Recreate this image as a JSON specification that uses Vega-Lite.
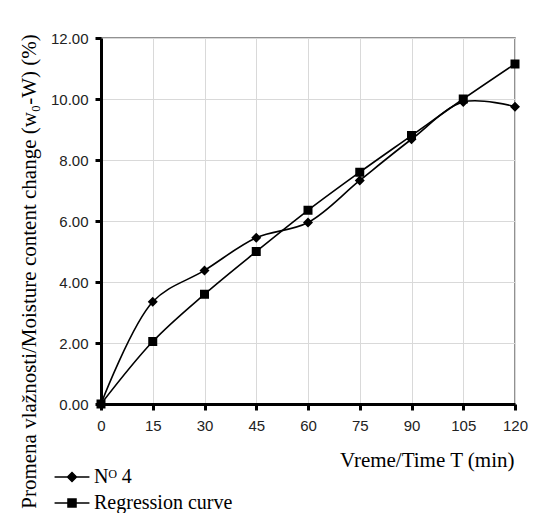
{
  "$schema": "https://vega.github.io/schema/vega-lite/v6.json",
  "width": 414,
  "height": 366,
  "autosize": {"type": "none"},
  "padding": {"left": 101, "top": 38, "right": 33, "bottom": 109},
  "background": "white",
  "config": {
    "view": {"stroke": "#6e6e6e", "strokeWidth": 1.5},
    "axis": {
      "labelFont": "Liberation Sans",
      "labelFontSize": 15,
      "labelColor": "#222222",
      "labelFlush": false,
      "domainColor": "black",
      "domainWidth": 3,
      "tickColor": "black",
      "tickWidth": 3,
      "tickSize": 6,
      "gridColor": "#d9d9d9",
      "gridWidth": 1
    }
  },
  "data": {
    "values": [
      {"t": 0, "v": 0, "series": "Nᴼ 4"},
      {"t": 15, "v": 3.35, "series": "Nᴼ 4"},
      {"t": 30, "v": 4.38, "series": "Nᴼ 4"},
      {"t": 45, "v": 5.45, "series": "Nᴼ 4"},
      {"t": 60, "v": 5.95, "series": "Nᴼ 4"},
      {"t": 75, "v": 7.33, "series": "Nᴼ 4"},
      {"t": 90, "v": 8.68, "series": "Nᴼ 4"},
      {"t": 105, "v": 9.9, "series": "Nᴼ 4"},
      {"t": 120, "v": 9.75, "series": "Nᴼ 4"},
      {"t": 0, "v": 0, "series": "Regression curve"},
      {"t": 15, "v": 2.05, "series": "Regression curve"},
      {"t": 30, "v": 3.6, "series": "Regression curve"},
      {"t": 45, "v": 5.0, "series": "Regression curve"},
      {"t": 60, "v": 6.35, "series": "Regression curve"},
      {"t": 75, "v": 7.6, "series": "Regression curve"},
      {"t": 90, "v": 8.8, "series": "Regression curve"},
      {"t": 105, "v": 10.0, "series": "Regression curve"},
      {"t": 120, "v": 11.15, "series": "Regression curve"}
    ]
  },
  "encoding": {
    "x": {
      "field": "t",
      "type": "quantitative",
      "scale": {"domain": [0, 120], "nice": false, "zero": true},
      "axis": {
        "values": [0, 15, 30, 45, 60, 75, 90, 105, 120],
        "labelAngle": 0,
        "labelPadding": 8,
        "grid": true,
        "title": "Vreme/Time T (min)",
        "titleFont": "Liberation Serif",
        "titleFontSize": 21,
        "titleFontWeight": "normal",
        "titleColor": "black",
        "titleAnchor": "end",
        "titleAlign": "right",
        "titleBaseline": "alphabetic",
        "titleX": 413,
        "titleY": 62
      }
    },
    "y": {
      "field": "v",
      "type": "quantitative",
      "scale": {"domain": [0, 12], "nice": false},
      "axis": {
        "values": [0, 2, 4, 6, 8, 10, 12],
        "format": ".2f",
        "labelPadding": 7,
        "grid": true,
        "title": "Promena vlažnosti/Moisture content change (w₀-W) (%)",
        "titleFont": "Liberation Serif",
        "titleFontSize": 21,
        "titleFontWeight": "normal",
        "titleColor": "black",
        "titleAngle": 270,
        "titleAlign": "center",
        "titleBaseline": "alphabetic",
        "titleX": -66,
        "titleY": 233
      }
    }
  },
  "layer": [
    {
      "transform": [{"filter": "false"}],
      "mark": {"type": "point", "filled": true, "size": 80, "stroke": "black", "strokeWidth": 1.5, "opacity": 1, "color": "black"},
      "encoding": {
        "shape": {
          "field": "series",
          "type": "nominal",
          "scale": {
            "domain": ["Nᴼ 4", "Regression curve"],
            "range": ["M-3.9,0H3.9M0,-1L1,0L0,1L-1,0Z", "M-3.9,0H3.9M-0.9,-0.9H0.9V0.9H-0.9Z"]
          },
          "legend": {
            "orient": "none",
            "legendX": -39,
            "legendY": 429,
            "title": null,
            "padding": 0,
            "labelFont": "Liberation Serif",
            "labelFontSize": 20,
            "labelColor": "black",
            "labelOffset": 12,
            "rowPadding": 6,
            "symbolSize": 80
          }
        }
      }
    },
    {
      "mark": {"type": "line", "interpolate": "catmull-rom", "color": "black", "strokeWidth": 1.6},
      "encoding": {"detail": {"field": "series"}}
    },
    {
      "mark": {"type": "point", "filled": true, "size": 100, "strokeWidth": 0, "opacity": 1, "color": "black"},
      "encoding": {
        "shape": {"field": "series", "type": "nominal"}
      }
    }
  ]
}
